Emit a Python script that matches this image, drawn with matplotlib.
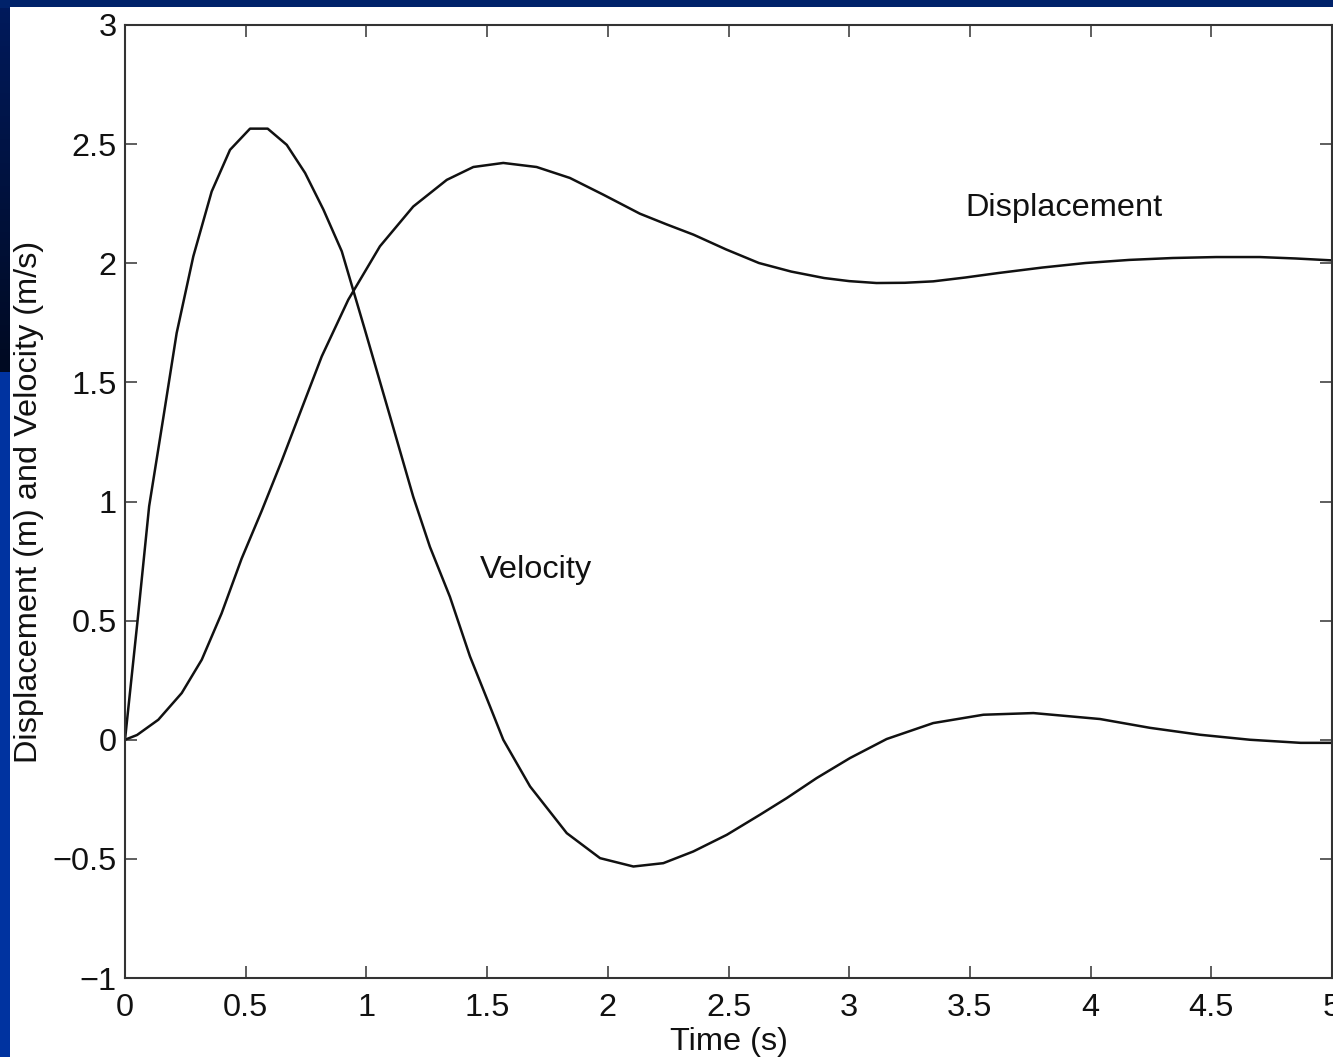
import numpy as np
import matplotlib
matplotlib.use("Agg")
import matplotlib.pyplot as plt
from matplotlib.patches import Rectangle
from matplotlib.colors import LinearSegmentedColormap

# ---- data ----
vel_t = [0, 0.052, 0.100, 0.160, 0.214, 0.283, 0.359, 0.435, 0.518, 0.591, 0.670,
         0.746, 0.822, 0.898, 0.994, 1.100, 1.194, 1.263, 1.346, 1.429, 1.512, 1.567,
         1.678, 1.830, 1.968, 2.106, 2.230, 2.354, 2.493, 2.630, 2.741, 2.865, 3.003,
         3.155, 3.348, 3.556, 3.763, 4.039, 4.246, 4.453, 4.660, 4.870, 5.000]
vel_v = [0, 0.50, 0.98, 1.36, 1.707, 2.029, 2.301, 2.476, 2.565, 2.565, 2.497,
         2.379, 2.225, 2.050, 1.720, 1.350, 1.020, 0.810, 0.60, 0.35, 0.14, 0.0,
         -0.196, -0.392, -0.497, -0.532, -0.518, -0.469, -0.399, -0.315, -0.245, -0.161, -0.077,
         0.003, 0.070, 0.105, 0.112, 0.087, 0.050, 0.021, 0.0, -0.013, -0.013]

disp_t = [0, 0.050, 0.138, 0.235, 0.318, 0.400, 0.483, 0.566, 0.649, 0.732, 0.815,
          0.925, 1.056, 1.194, 1.333, 1.443, 1.567, 1.705, 1.843, 1.981, 2.133,
          2.244, 2.355, 2.490, 2.626, 2.760, 2.896, 3.000, 3.113, 3.230, 3.348,
          3.480, 3.618, 3.800, 3.979, 4.160, 4.340, 4.520, 4.701, 4.850, 5.000]
disp_d = [0, 0.02, 0.084, 0.196, 0.336, 0.530, 0.760, 0.960, 1.170, 1.390, 1.609,
          1.847, 2.071, 2.238, 2.350, 2.404, 2.421, 2.404, 2.358, 2.288, 2.208,
          2.163, 2.120, 2.058, 2.001, 1.965, 1.938, 1.925, 1.917, 1.918, 1.924,
          1.940, 1.959, 1.982, 2.001, 2.014, 2.022, 2.026, 2.026, 2.020, 2.012]

x_ticks = [0, 0.5, 1, 1.5, 2, 2.5, 3, 3.5, 4, 4.5, 5]
x_tick_labels = ["0", "0.5", "1", "1.5", "2", "2.5", "3", "3.5", "4", "4.5", "5"]
y_ticks = [-1, -0.5, 0, 0.5, 1, 1.5, 2, 2.5, 3]
y_tick_labels = ["\u22121", "\u22120.5", "0", "0.5", "1", "1.5", "2", "2.5", "3"]

W, H = 1333, 1057
plt.rcParams['font.family'] = ['Liberation Sans', 'DejaVu Sans']
FS = 23.4

fig = plt.figure(figsize=(W / 100, H / 100), dpi=100)
fig.patch.set_facecolor('#0033a0')

# background decoration (slide frame)
bg = fig.add_axes([0, 0, 1, 1], zorder=-5)
bg.axis('off')
bg.add_patch(Rectangle((0, 0), W, 8, color='#00226a', lw=0))
grad = np.linspace(0, 1, 64).reshape(-1, 1)
cm = LinearSegmentedColormap.from_list('g', ['#001a5c', '#000a22'])
bg.imshow(grad, cmap=cm, extent=(0, 10, 372, 0), aspect='auto')
bg.add_patch(Rectangle((10, 7), W - 10, H - 7, color='white', lw=0))
bg.set_xlim(0, W)
bg.set_ylim(H, 0)

ax = fig.add_axes([125 / W, 79 / H, 1207 / W, 953 / H])
ax.set_facecolor('white')
ax.plot(vel_t, vel_v, color='#111111', lw=1.8)
ax.plot(disp_t, disp_d, color='#111111', lw=1.8)

ax.set_xlim(0, 5)
ax.set_ylim(-1, 3)
ax.set_xticks(x_ticks)
ax.set_xticklabels(x_tick_labels)
ax.set_yticks(y_ticks)
ax.set_yticklabels(y_tick_labels)
ax.tick_params(direction='in', length=8.6, width=1.1, color='#333333',
               top=True, right=True, labelsize=FS, labelcolor='#111111')
ax.tick_params(axis='x', pad=10.5)
ax.tick_params(axis='y', pad=6)
for s in ax.spines.values():
    s.set_color('#333333')
    s.set_linewidth(1.5)

ax.set_xlabel('Time (s)', fontsize=FS, color='#111111', labelpad=3)
ax.set_ylabel('Displacement (m) and Velocity (m/s)', fontsize=FS, color='#111111', labelpad=6)

ax.text(1.47, 0.714, 'Velocity', fontsize=FS, color='#111111', ha='left', va='center')
ax.text(3.48, 2.233, 'Displacement', fontsize=FS, color='#111111', ha='left', va='center')

fig.savefig('out.png', dpi=100, facecolor=fig.get_facecolor())
